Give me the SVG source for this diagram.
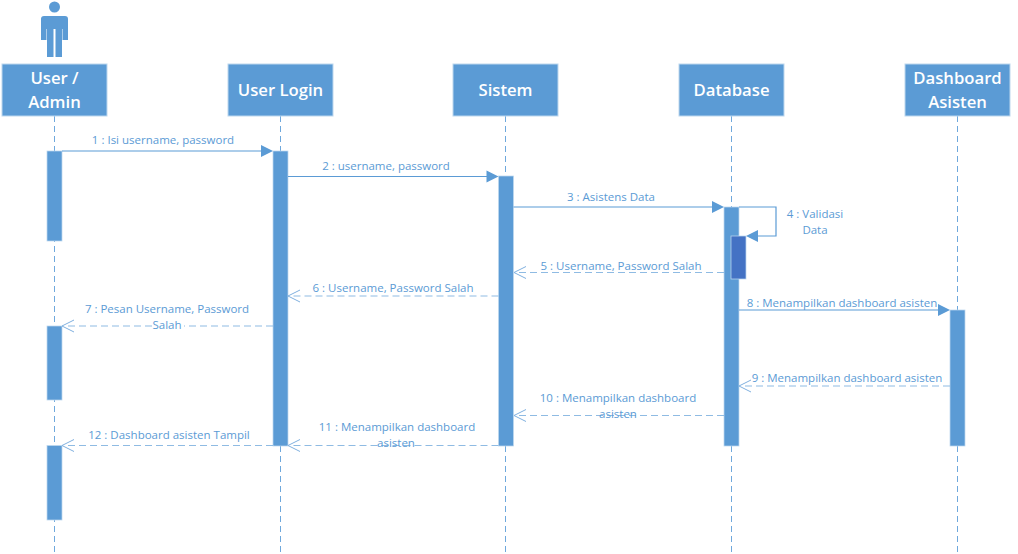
<svg xmlns="http://www.w3.org/2000/svg" width="1018" height="554" viewBox="0 0 1018 554">
<style>
.head{fill:#5b9bd5;stroke:#bdd7ee;stroke-width:1}
.ht{font-family:"Open Sans","Noto Sans",sans-serif;font-size:16.700px;font-weight:600;fill:#fff;text-anchor:middle}
.life{stroke:#6fa8dc;stroke-width:1;stroke-dasharray:6 4;fill:none}
.bar{fill:#5b9bd5;stroke:#bdd7ee;stroke-width:.75}
.msg{stroke:#5b9bd5;stroke-width:1.2;fill:none}
.ret{stroke:#8fbbe3;stroke-width:1.2;stroke-dasharray:7 4;fill:none}
.lab{font-family:"Open Sans","Noto Sans",sans-serif;font-size:11.500px;fill:#5b9bd5;text-anchor:middle}
.open{stroke:#7fb0df;stroke-width:1;fill:none}
.fillh{fill:#5b9bd5}
</style>
<defs>
<path id="ah" class="fillh" d="M0 0L-12 -6V6Z"/>
<path id="ahl" class="fillh" d="M0 0L12 -6V6Z"/>
<path id="oh" class="open" d="M12 -6L0 0L12 6"/>
</defs>
<rect width="1018" height="554" fill="#fff"/>
<g id="lifelines">
<path class="life" d="M54.500 116V552"/>
<path class="life" d="M280.500 116V552"/>
<path class="life" d="M505.500 116V552"/>
<path class="life" d="M731.500 116V552"/>
<path class="life" d="M957.500 116V552"/>
</g>
<g id="actor">
<circle cx="54.500" cy="7" r="5.500" fill="#5b9bd5"/>
<path d="M44 16H65Q68 16 68 19V40H62.500V29H62V57H55.500V29H53.500V57H47V29H46.500V40H41V19Q41 16 44 16Z" fill="#5b9bd5"/>
</g>
<g id="node-user-admin"><rect class="head" x="2" y="64" width="105" height="52"/><text class="ht" x="54.500" y="84">User /</text><text class="ht" x="54.500" y="108">Admin</text></g>
<g id="node-user-login"><rect class="head" x="228" y="64" width="105" height="52"/><text class="ht" x="280.500" y="96">User Login</text></g>
<g id="node-sistem"><rect class="head" x="453" y="64" width="105" height="52"/><text class="ht" x="505.500" y="96">Sistem</text></g>
<g id="node-database"><rect class="head" x="679" y="64" width="105" height="52"/><text class="ht" x="731.500" y="96">Database</text></g>
<g id="node-dashboard"><rect class="head" x="905" y="64" width="105" height="52"/><text class="ht" x="957.500" y="84">Dashboard</text><text class="ht" x="957.500" y="108">Asisten</text></g>
<g id="activations">
<rect class="bar" x="47" y="151" width="15" height="90"/>
<rect class="bar" x="47" y="326" width="15" height="74"/>
<rect class="bar" x="47" y="445.500" width="15" height="74.500"/>
<rect class="bar" x="273" y="151" width="15" height="295"/>
<rect class="bar" x="498.500" y="176" width="15" height="270"/>
<rect class="bar" x="724" y="207" width="15" height="239"/>
<rect x="731" y="236" width="15" height="43" fill="#4472c4" stroke="#bdd7ee" stroke-width=".75"/>
<rect class="bar" x="950" y="310" width="15" height="136"/>
</g>
<g id="connectors">
<path class="msg" d="M62 151H262"/><use href="#ah" x="273" y="151"/>
<path class="msg" d="M288 176.500H488"/><use href="#ah" x="498.500" y="176.500"/>
<path class="msg" d="M513.500 207H714"/><use href="#ah" x="724" y="207"/>
<path class="msg" d="M739 207H776V236H756"/><use href="#ahl" x="746" y="236"/>
<path class="ret" d="M724 272.500H517"/><use href="#oh" x="514" y="272.500"/>
<path class="ret" d="M498.500 296H291"/><use href="#oh" x="288" y="296"/>
<path class="ret" d="M273 326H65"/><use href="#oh" x="62" y="326"/>
<path class="msg" d="M739 310H939"/><use href="#ah" x="950" y="310"/>
<path class="ret" d="M950 386H742"/><use href="#oh" x="739" y="386"/>
<path class="ret" d="M724 415.500H517"/><use href="#oh" x="514" y="415.500"/>
<path class="ret" d="M498.500 445.500H291"/><use href="#oh" x="288" y="445.500"/>
<path class="ret" d="M273 445.500H65"/><use href="#oh" x="62" y="445.500"/>
</g>
<g id="labels">
<text class="lab" x="163" y="144">1 : Isi username, password</text>
<text class="lab" x="386" y="170">2 : username, password</text>
<text class="lab" x="611" y="201">3 : Asistens Data</text>
<text class="lab" x="815" y="218">4 : Validasi</text>
<text class="lab" x="815" y="234">Data</text>
<text class="lab" x="621" y="270">5 : Username, Password Salah</text>
<text class="lab" x="393" y="292">6 : Username, Password Salah</text>
<text class="lab" x="167" y="313">7 : Pesan Username, Password</text>
<rect x="152" y="320" width="32" height="12" fill="#fff"/>
<text class="lab" x="167" y="329">Salah</text>
<text class="lab" x="842" y="307">8 : Menampilkan dashboard asisten</text>
<text class="lab" x="847" y="382">9 : Menampilkan dashboard asisten</text>
<text class="lab" x="618" y="402">10 : Menampilkan dashboard</text>
<text class="lab" x="618" y="418">asisten</text>
<text class="lab" x="397" y="431">11 : Menampilkan dashboard</text>
<text class="lab" x="396" y="447">asisten</text>
<text class="lab" x="169" y="439">12 : Dashboard asisten Tampil</text>
</g>
</svg>
